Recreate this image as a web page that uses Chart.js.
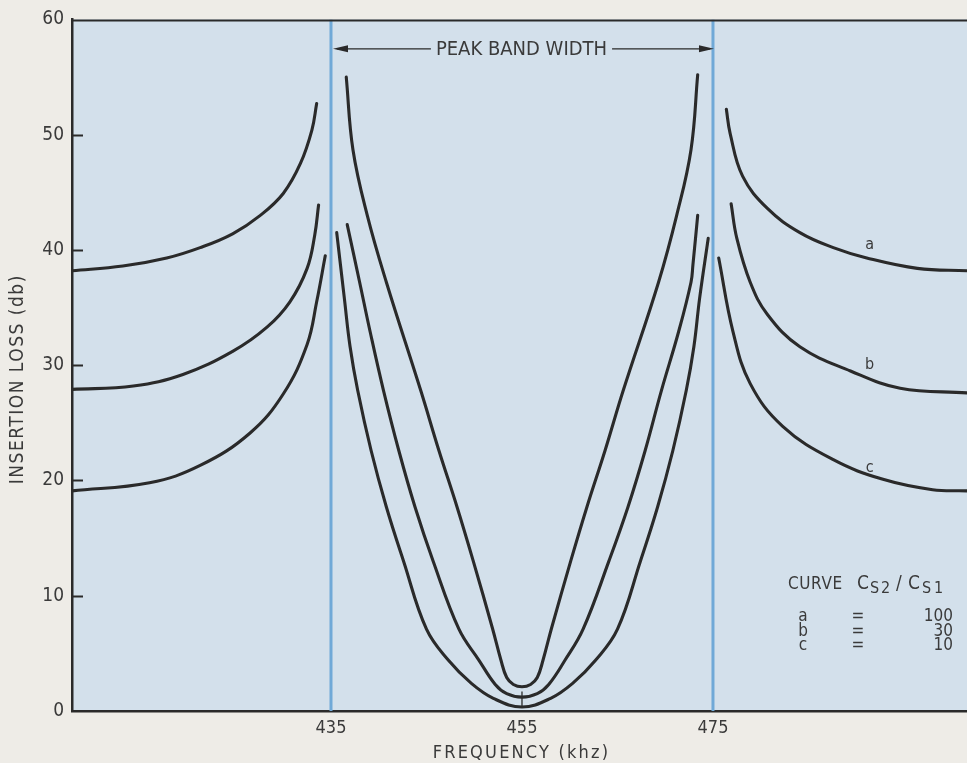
<!DOCTYPE html>
<html>
<head>
<meta charset="utf-8">
<title>Insertion loss vs frequency</title>
<script src="https://cdn.jsdelivr.net/npm/chart.js@4/dist/chart.umd.min.js"></script>
<style>
  html, body { margin: 0; padding: 0; background: #eeece7; }
  canvas { display: block; }
</style>
</head>
<body>
<canvas id="chart" width="967" height="763"></canvas>
<script>
// Frequency (kHz) / insertion loss (dB) pairs, one array per drawn curve piece.
// Below the pass band (left of 435 kHz)
const curveA_below = [[407.9,38.2],[413.2,38.6],[417.8,39.3],[421.3,40.2],[424.7,41.4],[427.6,43.0],[430.0,44.9],[431.8,47.5],[433.0,50.4],[433.5,52.7]];
const curveB_below = [[407.9,27.9],[414.3,28.2],[419.5,29.2],[424.7,31.2],[428.3,33.3],[430.7,35.5],[432.5,38.4],[433.3,41.3],[433.7,43.9]];
const curveC_below = [[407.9,19.1],[416.0,19.8],[421.3,21.3],[426.5,24.1],[430.0,27.5],[432.5,31.8],[433.5,35.5],[434.4,39.5]];

// Inside the pass band (435 - 475 kHz)
const curveA_band = [[436.6,55.0],[437.3,48.7],[438.8,43.0],[440.8,37.2],[444.4,27.8],[446.3,22.6],[448.2,17.7],[449.9,13.0],[451.9,7.2],[452.8,4.4],[453.4,2.9],[454.1,2.3],[455.0,2.1],[455.9,2.3],[456.6,2.9],[457.2,4.4],[458.1,7.2],[460.1,13.0],[461.8,17.7],[463.7,22.6],[465.6,27.8],[469.3,37.2],[471.2,43.0],[472.7,48.7],[473.4,55.2]];
const curveB_band = [[436.7,42.2],[438.0,37.2],[439.1,32.9],[440.5,27.8],[442.1,22.6],[443.8,17.7],[445.7,13.0],[448.4,7.1],[450.5,4.4],[452.2,2.3],[453.4,1.5],[455.0,1.2],[456.6,1.5],[457.8,2.3],[459.5,4.4],[461.4,7.1],[464.1,13.0],[466.1,17.7],[467.9,22.6],[469.6,27.8],[471.4,32.9],[472.7,37.2],[472.9,38.7],[473.4,43.0]];
const curveC_band = [[435.6,41.5],[436.4,35.8],[437.0,31.6],[437.8,27.8],[439.2,22.6],[440.8,17.7],[442.6,13.0],[445.0,7.1],[447.3,4.4],[449.7,2.4],[452.0,1.1],[455.0,0.35],[458.0,1.1],[460.3,2.4],[462.7,4.4],[465.0,7.1],[467.4,13.0],[469.2,17.7],[470.8,22.6],[472.2,27.8],[473.0,31.6],[473.6,35.8],[474.5,41.0]];

// Above the pass band (right of 475 kHz)
const curveA_above = [[476.4,52.2],[476.8,50.1],[478.1,46.4],[480.7,43.6],[484.1,41.5],[487.6,40.2],[491.1,39.3],[496.4,38.4],[501.6,38.2]];
const curveB_above = [[476.9,44.0],[477.5,41.0],[478.9,37.2],[480.7,34.4],[484.1,31.6],[489.4,29.5],[494.6,28.0],[501.6,27.6]];
const curveC_above = [[475.6,39.3],[477.1,32.9],[478.9,28.4],[482.3,24.7],[487.6,21.8],[492.8,20.1],[498.0,19.2],[501.6,19.1]];

// Peak band edges and the centre-frequency mark
const bandEdges = [435, 475];
const centreFreq = 455;
const centreMarkDb = [0.3, 1.7];

// Axis ticks
const freqTicks = [435, 455, 475];
const lossTicks = [0, 10, 20, 30, 40, 50, 60];

// Legend table rows: curve, capacitance ratio
const legendCurves = ['a', 'b', 'c'];
const legendRatios = ['100', '30', '10'];

const FONT = '"DejaVu Sans Condensed", "DejaVu Sans", sans-serif';
const INK = '#2a2a2a';
const TEXT = '#3a3a3a';
const PLOT_BG = '#d3e0eb';
const EDGE_BLUE = '#70a9d7';

const toXY = arr => arr.map(([f, db]) => ({ x: f, y: db }));

const curvePieces = [curveA_below, curveB_below, curveC_below,
                     curveA_band, curveB_band, curveC_band,
                     curveA_above, curveB_above, curveC_above];

const datasets = [];
bandEdges.forEach(f => datasets.push({
  data: [{ x: f, y: lossTicks[0] }, { x: f, y: lossTicks[lossTicks.length - 1] }],
  borderColor: EDGE_BLUE, borderWidth: 3, pointRadius: 0, order: 3, tension: 0
}));
datasets.push({
  data: centreMarkDb.map(v => ({ x: centreFreq, y: v })),
  borderColor: INK, borderWidth: 1.3, pointRadius: 0, order: 2, tension: 0
});
curvePieces.forEach(p => datasets.push({
  data: toXY(p),
  borderColor: INK, borderWidth: 3.1, pointRadius: 0, order: 1,
  tension: 0.4, borderCapStyle: 'round', borderJoinStyle: 'round'
}));

function spaced(ctx, px) {
  if ('letterSpacing' in ctx) ctx.letterSpacing = px + 'px';
}

// Plot background, frame, inward ticks, axis titles and annotations
const decor = {
  id: 'decor',
  beforeDraw(chart) {
    const { ctx, chartArea: a } = chart;
    ctx.save();
    ctx.fillStyle = PLOT_BG;
    ctx.fillRect(a.left, a.top, a.right - a.left, a.bottom - a.top);
    ctx.restore();
  },
  afterDraw(chart) {
    const { ctx, chartArea: a, scales: { x, y } } = chart;
    ctx.save();

    // top frame line
    ctx.strokeStyle = INK;
    ctx.lineWidth = 2;
    ctx.beginPath();
    ctx.moveTo(a.left, a.top + 1);
    ctx.lineTo(a.right, a.top + 1);
    ctx.stroke();

    // tick marks pointing into the plot
    ctx.lineWidth = 2;
    ctx.beginPath();
    y.ticks.forEach(t => {
      if (t.value <= y.min || t.value >= y.max) return;
      const py = Math.round(y.getPixelForValue(t.value)) + 0.5;
      ctx.moveTo(a.left, py);
      ctx.lineTo(a.left + 11, py);
    });
    ctx.stroke();

    // axis titles
    ctx.fillStyle = TEXT;
    ctx.textAlign = 'center';
    ctx.textBaseline = 'middle';
    ctx.save();
    spaced(ctx, 2.2);
    ctx.font = '18px ' + FONT;
    ctx.fillText('FREQUENCY (khz)', (a.left + a.right) / 2 + 2, a.bottom + 42);
    ctx.restore();
    ctx.save();
    spaced(ctx, 1.5);
    ctx.font = '19px ' + FONT;
    ctx.translate(18, (a.top + a.bottom) / 2 + 14);
    ctx.rotate(-Math.PI / 2);
    ctx.fillText('INSERTION LOSS (db)', 0, 0);
    ctx.restore();

    // "PEAK BAND WIDTH" dimension arrow
    const x1 = x.getPixelForValue(bandEdges[0]) + 2;
    const x2 = x.getPixelForValue(bandEdges[1]) + 1;
    const ay = y.getPixelForValue(57.45);
    const label = 'PEAK BAND WIDTH';
    ctx.font = '20px ' + FONT;
    const tw = ctx.measureText(label).width;
    const mid = (x1 + x2) / 2 - 2;
    ctx.fillText(label, mid, ay + 1);
    ctx.strokeStyle = INK;
    ctx.lineWidth = 1.3;
    ctx.beginPath();
    ctx.moveTo(x1 + 4, ay); ctx.lineTo(mid - tw / 2 - 5, ay);
    ctx.moveTo(mid + tw / 2 + 5, ay); ctx.lineTo(x2 - 4, ay);
    ctx.stroke();
    ctx.fillStyle = INK;
    ctx.beginPath();
    ctx.moveTo(x1, ay); ctx.lineTo(x1 + 15, ay - 3.5); ctx.lineTo(x1 + 15, ay + 3.5); ctx.closePath();
    ctx.moveTo(x2, ay); ctx.lineTo(x2 - 15, ay - 3.5); ctx.lineTo(x2 - 15, ay + 3.5); ctx.closePath();
    ctx.fill();

    // curve names on the upper-side branches
    ctx.font = '16px ' + FONT;
    ctx.fillStyle = TEXT;
    [['a', 40.4], ['b', 30.0], ['c', 21.1]].forEach(([t, db]) => {
      ctx.fillText(t, x.getPixelForValue(491.4), y.getPixelForValue(db));
    });

    // legend table
    const lx = a.right - 179;
    const ly = a.bottom - 122;
    ctx.textBaseline = 'alphabetic';
    ctx.textAlign = 'left';
    ctx.font = '17px ' + FONT;
    spaced(ctx, 0.6);
    ctx.fillText('CURVE', lx, ly);
    spaced(ctx, 0);
    const big = '19px ' + FONT, small = '16px ' + FONT;
    [['C', big, 0, 69], ['S', small, 4, 82], ['2', small, 4, 93],
     ['/', big, 0, 108], ['C', big, 0, 120], ['S', small, 4, 134], ['1', small, 4, 146]]
      .forEach(([s, f, dy, dx]) => {
        ctx.font = f;
        ctx.fillText(s, lx + dx, ly + dy);
      });
    ctx.font = '17px ' + FONT;
    legendCurves.forEach((c, i) => {
      const by = ly + 32 + i * 14.5;
      ctx.textAlign = 'center';
      ctx.fillText(c, lx + 15, by);
      ctx.fillText('=', lx + 70, by);
      ctx.textAlign = 'right';
      ctx.fillText(legendRatios[i], lx + 165, by);
    });

    ctx.restore();
  }
};

Chart.defaults.font.family = FONT;
Chart.defaults.color = TEXT;

new Chart(document.getElementById('chart'), {
  type: 'line',
  data: { datasets },
  options: {
    responsive: false,
    animation: false,
    events: [],
    layout: { padding: { top: 13, right: 0, bottom: 0, left: 0 } },
    plugins: { legend: { display: false }, tooltip: { enabled: false } },
    elements: { line: { fill: false } },
    scales: {
      x: {
        type: 'linear',
        min: 407.88,
        max: 501.6,
        afterBuildTicks: s => { s.ticks = freqTicks.map(v => ({ value: v })); },
        afterFit: s => { s.height = 52; },
        grid: { display: false, drawTicks: false },
        border: { display: true, color: INK, width: 2.5 },
        ticks: { font: { size: 18 }, padding: 7, color: TEXT, maxRotation: 0 }
      },
      y: {
        type: 'linear',
        min: 0,
        max: 60,
        afterBuildTicks: s => { s.ticks = lossTicks.map(v => ({ value: v })); },
        afterFit: s => { s.width = 72; },
        grid: { display: false, drawTicks: false },
        border: { display: true, color: INK, width: 2.5 },
        ticks: { font: { size: 19 }, padding: 8, color: TEXT }
      }
    }
  },
  plugins: [decor]
});
</script>
</body>
</html>
